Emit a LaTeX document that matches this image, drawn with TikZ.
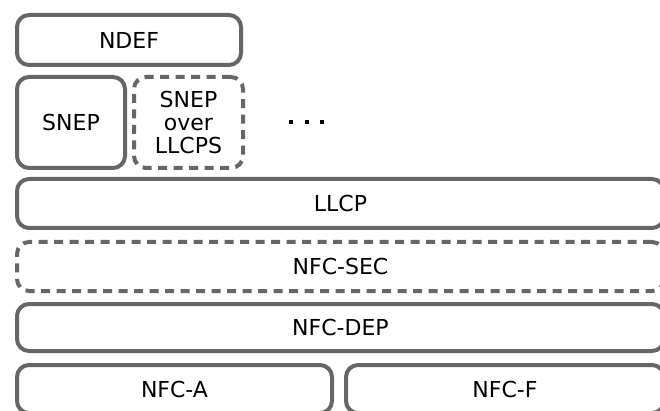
\documentclass[tikz,border=0pt]{standalone}
\usepackage{fontspec}
\setmainfont{DejaVu Sans}
\begin{document}
\begin{tikzpicture}[x=1pt,y=-1pt,
  layer/.style={draw=boxgray, line width=4pt, rounded corners=12pt, inner sep=0pt,
    font=\fontsize{22}{23}\selectfont, text=black, align=center},
  dashlayer/.style={layer, dash pattern=on 9pt off 6.5pt},
  dotmark/.style={fill=black, minimum size=4pt, inner sep=0pt}]
\definecolor{boxgray}{HTML}{666666}
\useasboundingbox (0,0) rectangle (660,411);
\node[layer, minimum width=224pt, minimum height=50pt] (ndef) at (129,40) {NDEF};
\node[layer, minimum width=108pt, minimum height=91pt] (snep) at (71,122.5) {SNEP};
\node[dashlayer, minimum width=109pt, minimum height=91pt] (snepover) at (188.5,122.5) {SNEP\\over\\LLCPS};
\node[dotmark] (d1) at (291,122) {};
\node[dotmark] (d2) at (306.5,122) {};
\node[dotmark] (d3) at (322,122) {};
\node[layer, minimum width=647pt, minimum height=49pt] (llcp) at (340.5,203.5) {LLCP};
\node[dashlayer, minimum width=647pt, minimum height=49pt] (sec) at (340.5,266.5) {NFC-SEC};
\node[layer, minimum width=647pt, minimum height=47pt] (dep) at (340.5,327.5) {NFC-DEP};
\node[layer, minimum width=315pt, minimum height=48pt] (nfca) at (174.5,389) {NFC-A};
\node[layer, minimum width=318pt, minimum height=48pt] (nfcf) at (505,389) {NFC-F};
\end{tikzpicture}
\end{document}
